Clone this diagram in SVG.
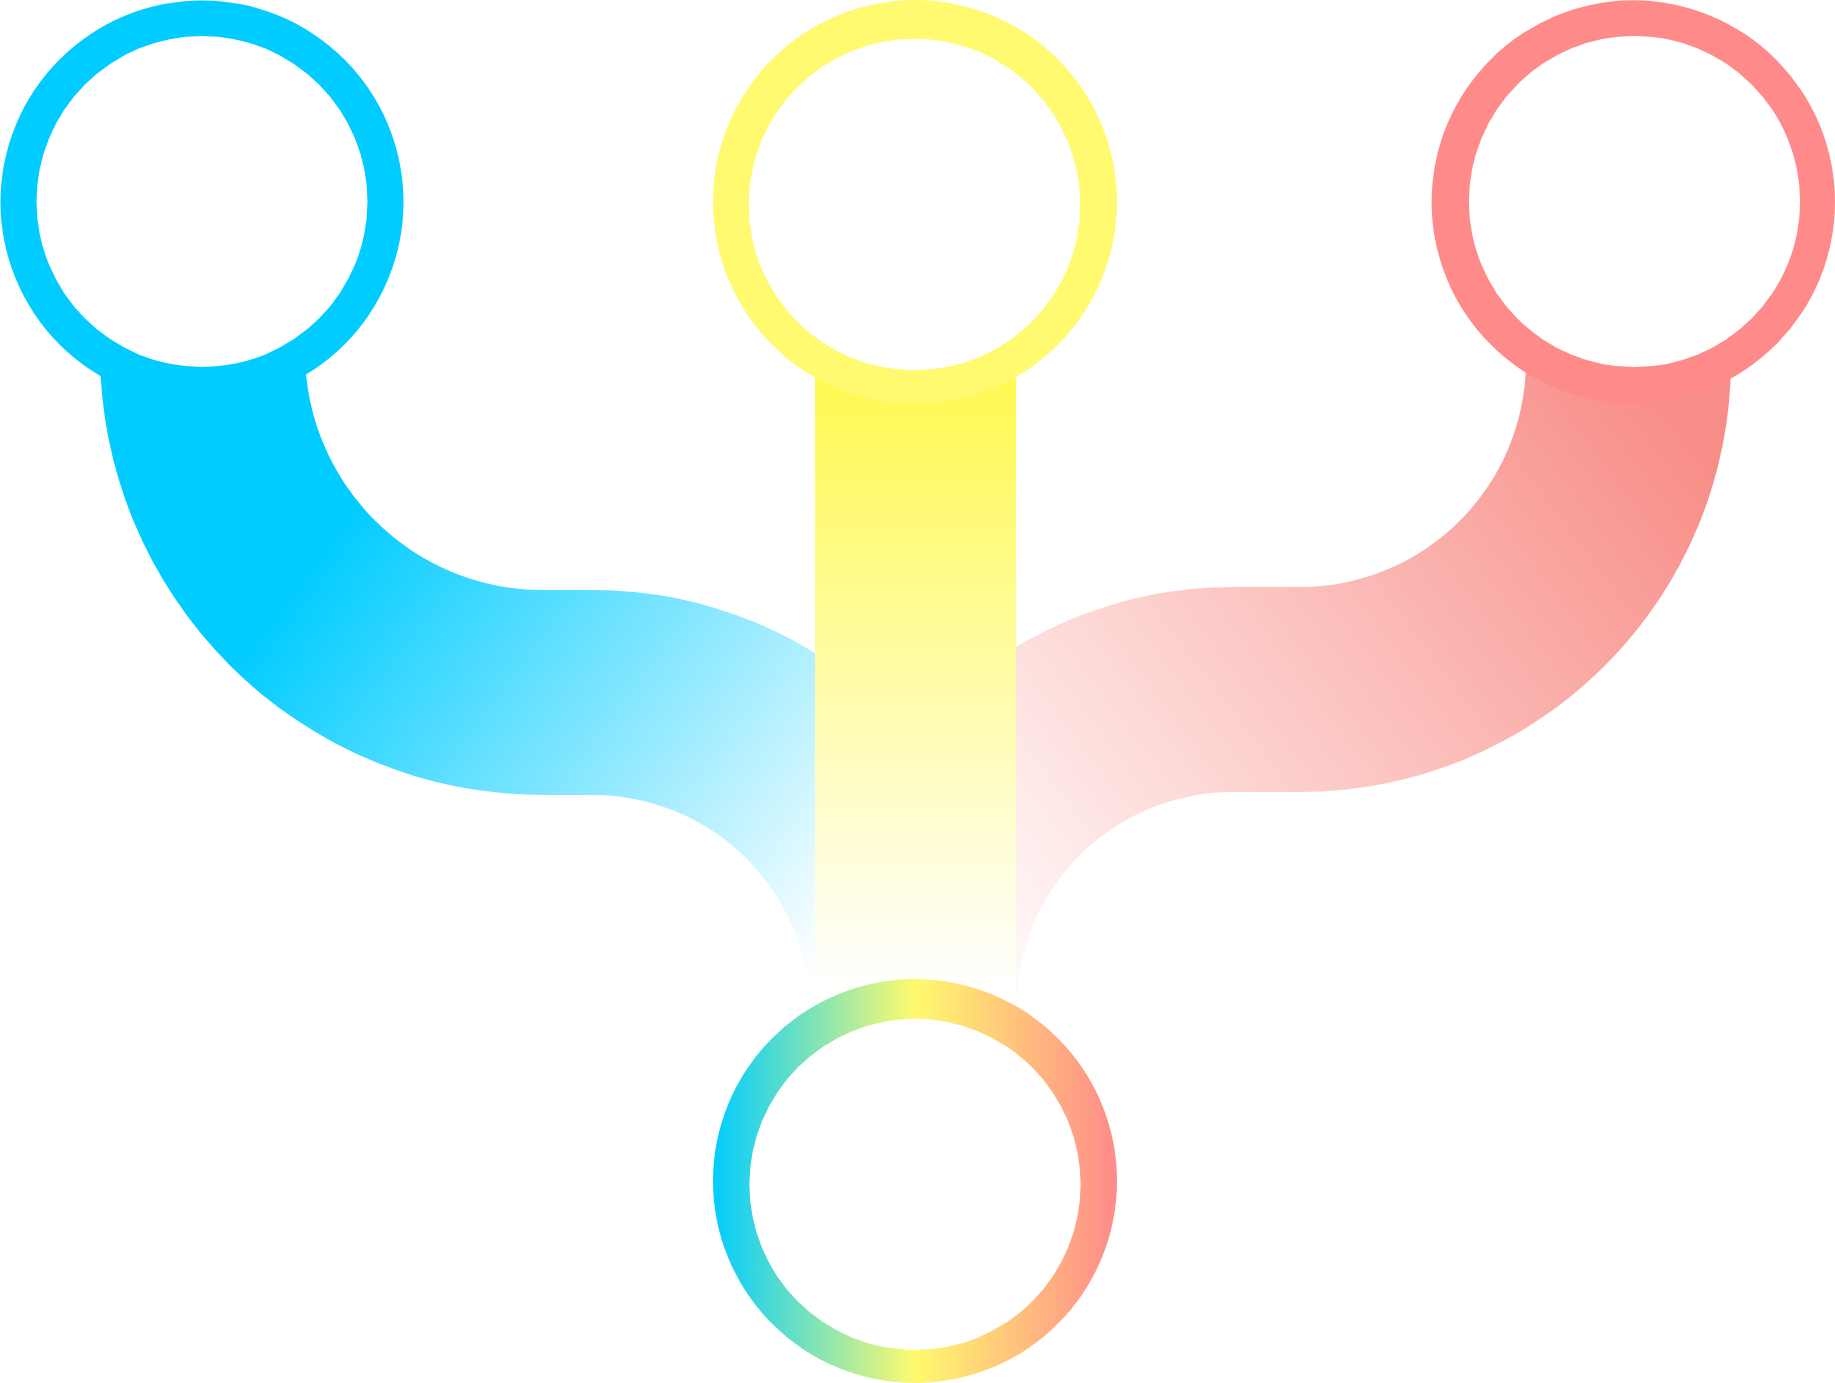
<svg xmlns="http://www.w3.org/2000/svg" width="1835" height="1383" viewBox="0 0 1835 1383">
  <defs>
    <linearGradient id="gCyan" gradientUnits="userSpaceOnUse" x1="468" y1="351" x2="990" y2="743">
      <stop offset="0" stop-color="#00CCFF" stop-opacity="1"/>
      <stop offset="1" stop-color="#00CCFF" stop-opacity="0"/>
    </linearGradient>
    <linearGradient id="gRed" gradientUnits="userSpaceOnUse" x1="1667" y1="400" x2="933" y2="951">
      <stop offset="0" stop-color="#F88D87" stop-opacity="1"/>
      <stop offset="1" stop-color="#F88D87" stop-opacity="0"/>
    </linearGradient>
    <linearGradient id="gBar" gradientUnits="userSpaceOnUse" x1="0" y1="375" x2="0" y2="990">
      <stop offset="0" stop-color="#FFF950"/>
      <stop offset="1" stop-color="#FFFFFF"/>
    </linearGradient>
    <linearGradient id="gBottom" gradientUnits="userSpaceOnUse" x1="713" y1="0" x2="1117" y2="0">
      <stop offset="0" stop-color="#00CCFF"/>
      <stop offset="0.5" stop-color="#FFFA6E"/>
      <stop offset="1" stop-color="#FF8A8A"/>
    </linearGradient>
  </defs>
  <style>
    .hole { fill: #FFFFFF; }
  </style>
  <rect width="1835" height="1383" fill="#FFFFFF"/>
  <g id="connectors">
    <path id="link-cyan" fill="url(#gCyan)" d="M100,330 L100,352 A443,443 0 0 0 543,795 L593,795 A217,217 0 0 1 810,1012 L810,1100 L1015,1100 L1015,1012 A422,422 0 0 0 593,590 L543,590 A238,238 0 0 1 305,352 L305,330 Z"/>
    <path id="link-red" fill="url(#gRed)" d="M1731,330 L1731,361 A431,431 0 0 1 1300,792 L1233,792 A217,217 0 0 0 1016,1009 L1016,1100 L811,1100 L811,1009 A422,422 0 0 1 1233,587 L1300,587 A226,226 0 0 0 1526,361 L1526,330 Z"/>
    <rect id="link-yellow" x="815" y="330" width="201" height="770" fill="url(#gBar)"/>
  </g>
  <g id="node-cyan">
    <circle cx="202" cy="202" r="201.5" fill="#00CCFF"/>
    <circle class="hole" cx="202" cy="201.5" r="165.5"/>
  </g>
  <g id="node-yellow">
    <circle cx="915" cy="202" r="202" fill="#FFFA70"/>
    <circle class="hole" cx="914.5" cy="204.5" r="165.8"/>
  </g>
  <g id="node-red">
    <circle cx="1633.3" cy="202" r="201.7" fill="#FF8A8A"/>
    <circle class="hole" cx="1634.5" cy="201.5" r="165.6"/>
  </g>
  <g id="node-bottom">
    <circle cx="915" cy="1181" r="202" fill="url(#gBottom)"/>
    <circle class="hole" cx="915" cy="1184.4" r="165.6"/>
  </g>
</svg>
